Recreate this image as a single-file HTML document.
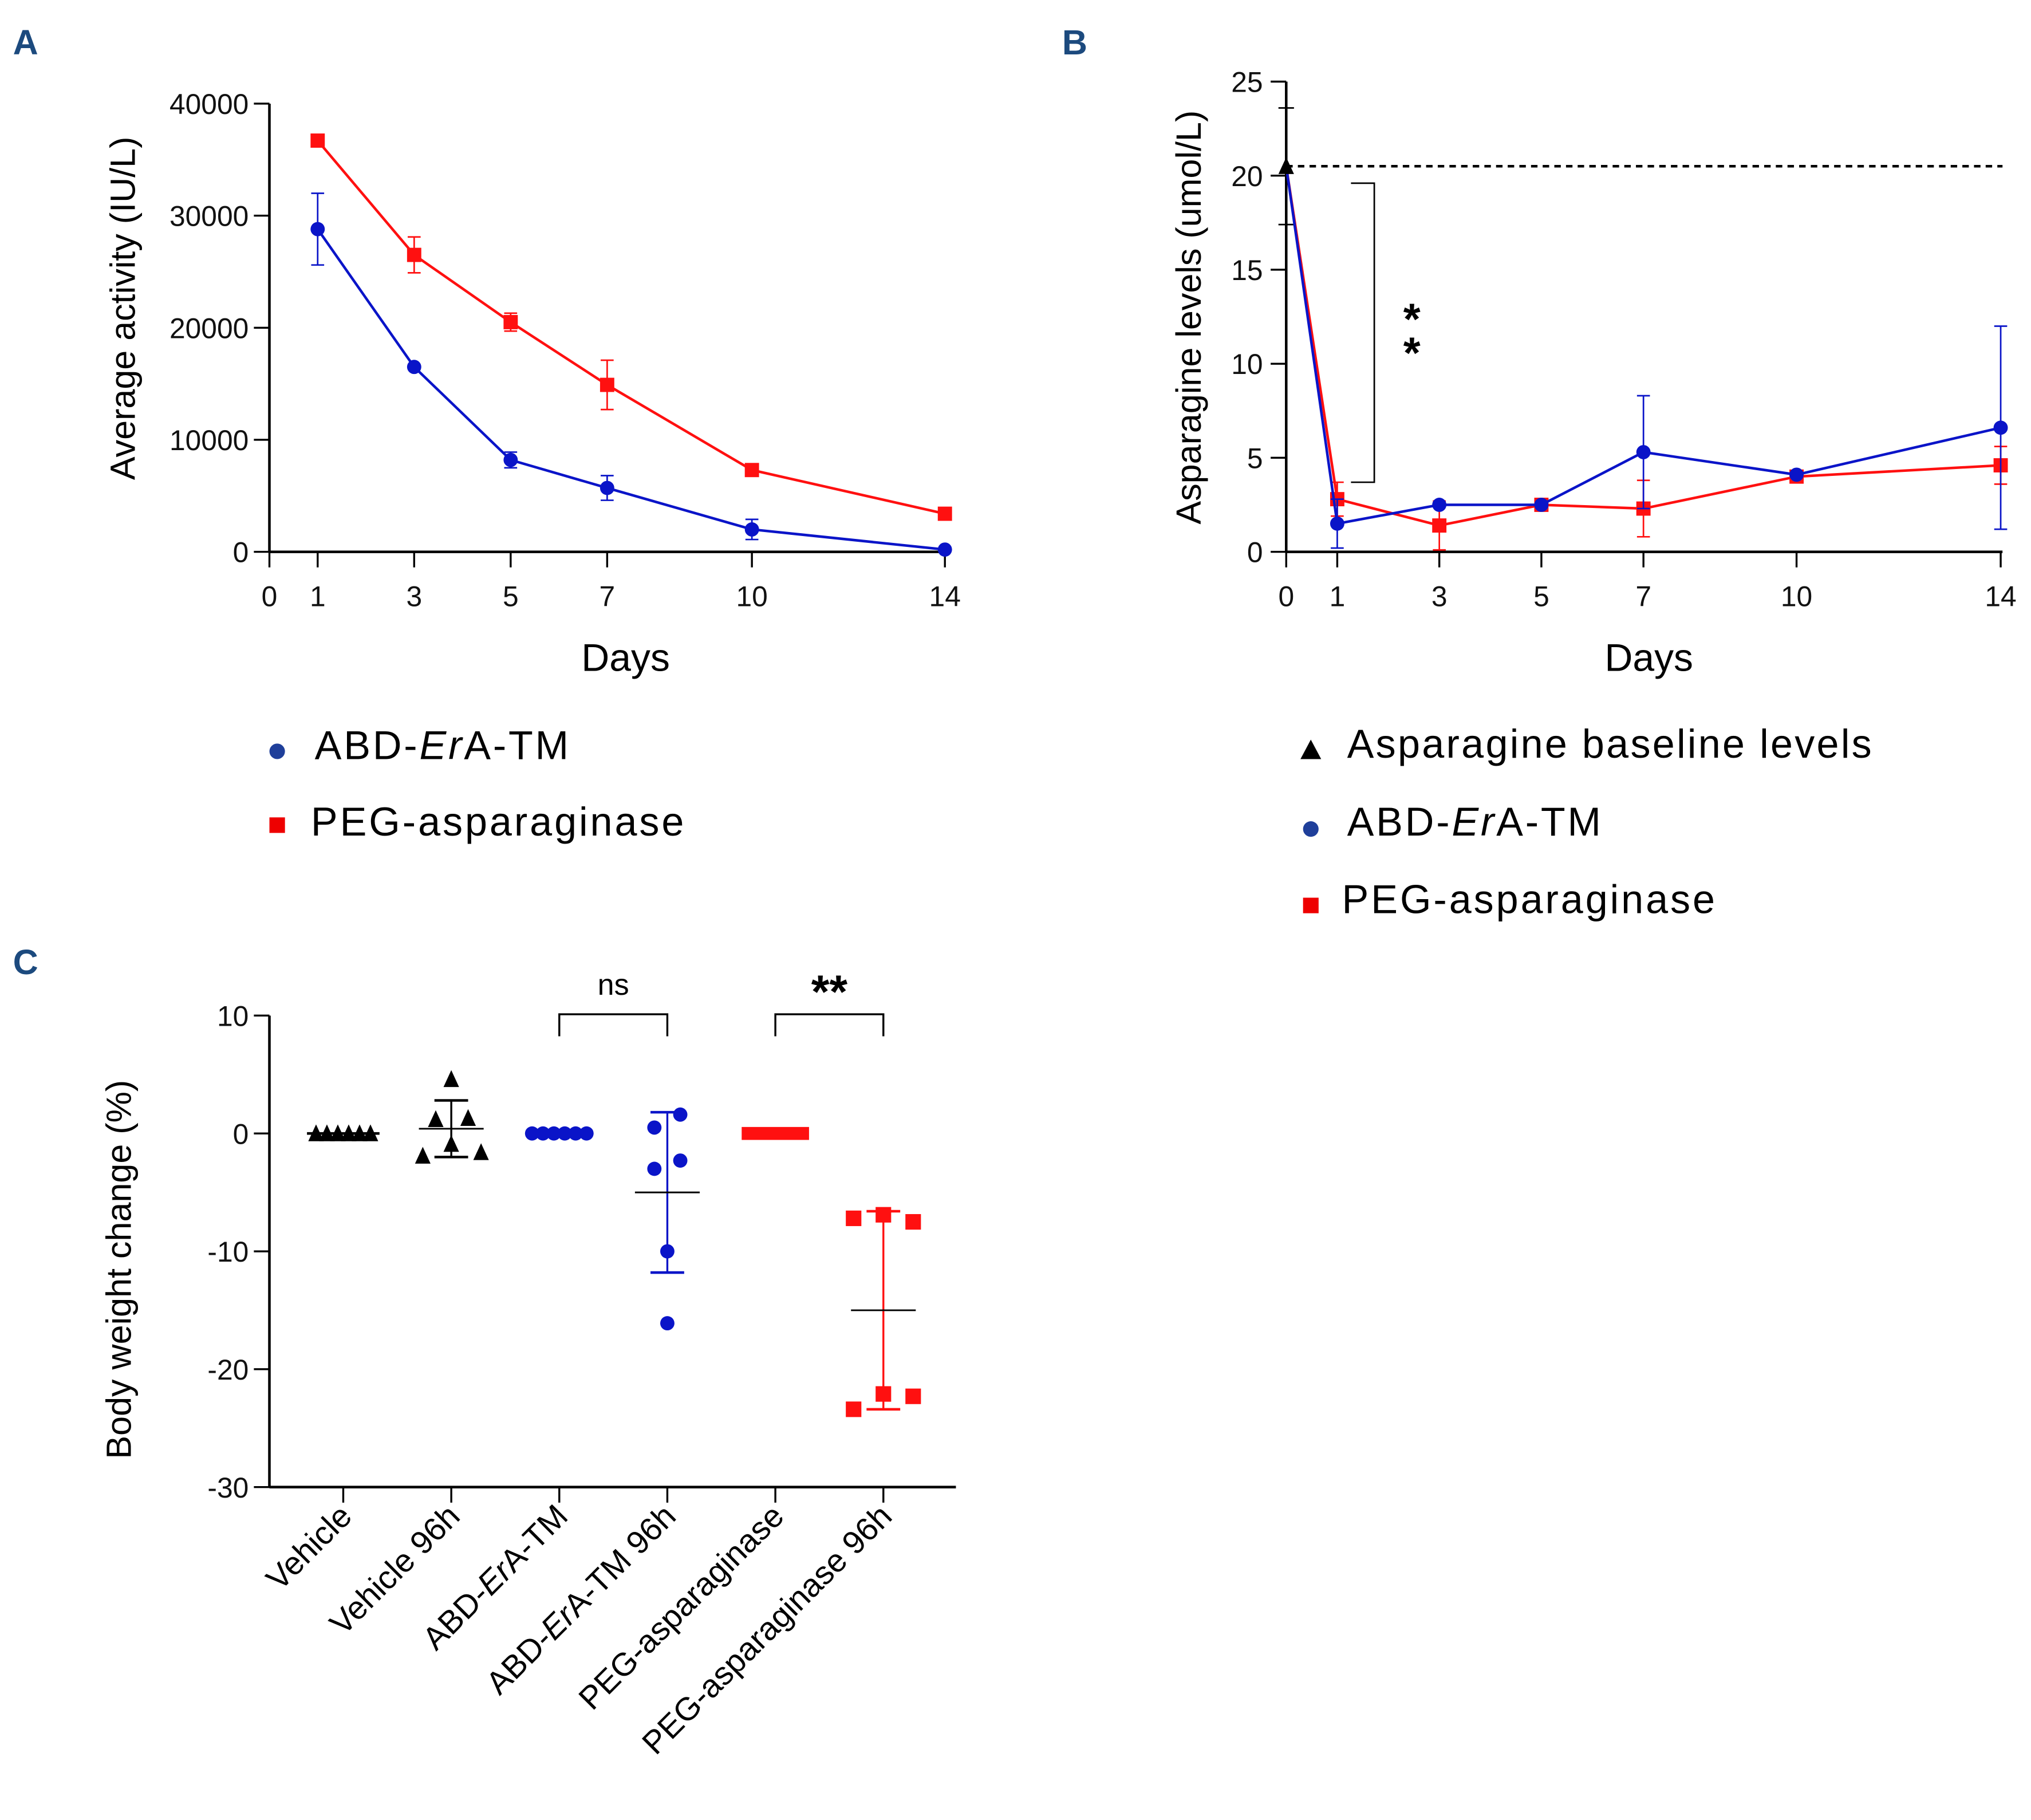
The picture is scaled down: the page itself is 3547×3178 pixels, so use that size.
<!DOCTYPE html>
<html><head><meta charset="utf-8"><style>
html,body{margin:0;padding:0;background:#fff;}
svg{display:block;font-family:"Liberation Sans",Arial,sans-serif;}
.tick{font-size:22px;fill:#111;}
</style></head><body>
<svg id="fig" width="3547" height="3178" viewBox="0 0 1568 1405" preserveAspectRatio="none" xmlns="http://www.w3.org/2000/svg">
<rect width="1568" height="1405" fill="#fff"/>
<text x="10" y="42" font-size="27" font-weight="bold" fill="#1c4a7e">A</text>
<text x="820" y="42" font-size="27" font-weight="bold" fill="#1c4a7e">B</text>
<text x="10" y="752" font-size="27" font-weight="bold" fill="#1c4a7e">C</text>
<g id="pa"></g>
<g id="pb"></g>
<g id="pc"></g>
<g>
<circle cx="214" cy="580" r="6" fill="#1f3f9a"/>
<text x="243" y="586" font-size="31" textLength="196" lengthAdjust="spacing">ABD-<tspan font-style="italic">Er</tspan>A-TM</text>
<rect x="208" y="631" width="12" height="12" fill="#e00"/>
<text x="240" y="645" font-size="31" textLength="288" lengthAdjust="spacing">PEG-asparaginase</text>
</g>
<g>
<path d="M1004,586 L1020,586 L1012,571 Z" fill="#000"/>
<text x="1040" y="585" font-size="31" textLength="405" lengthAdjust="spacing">Asparagine baseline levels</text>
<circle cx="1012" cy="640" r="6" fill="#1f3f9a"/>
<text x="1040" y="645" font-size="31" textLength="196" lengthAdjust="spacing">ABD-<tspan font-style="italic">Er</tspan>A-TM</text>
<rect x="1006" y="693" width="12" height="12" fill="#e00"/>
<text x="1036" y="705" font-size="31" textLength="288" lengthAdjust="spacing">PEG-asparaginase</text>
</g>
</svg>
<script>
const NS="http://www.w3.org/2000/svg";
// Panel A data
const aDays=[1,3,5,7,10,14];
const aBlue=[28800,16500,8200,5700,2000,200];
const aBlueErr=[3200,0,700,1100,900,0];
const aRed=[36700,26500,20500,14900,7300,3400];
const aRedErr=[0,1600,800,2200,0,0];
const aYTicks=[0,10000,20000,30000,40000];
const aXTicks=[0,1,3,5,7,10,14];
// Panel B data
const bDays=[1,3,5,7,10,14];
const bBaseline=20.5;
const bBaselineErr=3.1;
const bBlue=[1.5,2.5,2.5,5.3,4.1,6.6];
const bBlueErr=[1.3,0,0,3.0,0,5.4];
const bRed=[2.8,1.4,2.5,2.3,4.0,4.6];
const bRedErr=[0.9,1.3,0,1.5,0,1.0];
const bYTicks=[0,5,10,15,20,25];
const bXTicks=[0,1,3,5,7,10,14];
// Panel C data
const cCats=["Vehicle","Vehicle 96h","ABD-ErA-TM","ABD-ErA-TM 96h","PEG-asparaginase","PEG-asparaginase 96h"];
const cVeh96=[4.6,1.2,1.3,-0.9,-1.9,-1.6];
const cAbd96=[1.6,0.5,-2.3,-3.0,-10.0,-16.1];
const cPeg96=[-7.2,-6.9,-7.5,-22.1,-22.3,-23.4];
const cMean=[0,0.4,0,-5.0,0,-15.0];
const cSD=[0,2.4,0,6.8,0,8.4];
const cYTicks=[10,0,-10,-20,-30];

function el(p,t,a){const e=document.createElementNS(NS,t);for(const k in a)e.setAttribute(k,a[k]);p.appendChild(e);return e;}
const BLUE="#0a14c8",RED="#ff1010";

// ---- Panel A
const pa=document.getElementById('pa');
const ax=d=>208+d*37.25, ay=v=>426-v*(346/40000);
el(pa,'line',{x1:208,y1:80,x2:208,y2:426,stroke:'#000','stroke-width':2});
el(pa,'line',{x1:208,y1:426,x2:731,y2:426,stroke:'#000','stroke-width':2});
aYTicks.forEach(v=>{el(pa,'line',{x1:196,y1:ay(v),x2:208,y2:ay(v),stroke:'#000','stroke-width':1.5});
 const t=el(pa,'text',{x:192,y:ay(v)+8,'text-anchor':'end',class:'tick'});t.textContent=v;
 
 });
aXTicks.forEach(d=>{el(pa,'line',{x1:ax(d),y1:426,x2:ax(d),y2:438,stroke:'#000','stroke-width':1.5});
 const t=el(pa,'text',{x:ax(d),y:468,'text-anchor':'middle',class:'tick'});t.textContent=d;
 
 });
let tt=el(pa,'text',{x:483,y:518,'text-anchor':'middle','font-size':30});tt.textContent='Days';


tt=el(pa,'text',{transform:'translate(104,238) rotate(-90)','text-anchor':'middle','font-size':27});tt.textContent='Average activity (IU/L)';


function series(g,xs,ys,errs,fx,fy,col,shape,name,skipFirst){
 el(g,'polyline',{points:xs.map((d,i)=>fx(d)+','+fy(ys[i])).join(' '),fill:'none',stroke:col,'stroke-width':2});
 xs.forEach((d,i)=>{if(skipFirst&&i===0)return;const x=fx(d),y=fy(ys[i]);
  if(errs[i]>0){const y1=fy(ys[i]+errs[i]),y2=fy(ys[i]-errs[i]);
   el(g,'line',{x1:x,y1:y1,x2:x,y2:y2,stroke:col,'stroke-width':1.2});
   el(g,'line',{x1:x-5,y1:y1,x2:x+5,y2:y1,stroke:col,'stroke-width':1.2});
   el(g,'line',{x1:x-5,y1:y2,x2:x+5,y2:y2,stroke:col,'stroke-width':1.2});}
  let m;
  if(shape==='c') m=el(g,'circle',{cx:x,cy:y,r:5.5,fill:col});
  else m=el(g,'rect',{x:x-5.5,y:y-5.5,width:11,height:11,fill:col});
  
  });
}
series(pa,aDays,aRed,aRedErr,ax,ay,RED,'s','a-peg-point');
series(pa,aDays,aBlue,aBlueErr,ax,ay,BLUE,'c','a-abd-point');

// ---- Panel B
const pb=document.getElementById('pb');
const bx=d=>993+d*39.4, by=v=>426-v*(363/25);
el(pb,'line',{x1:993,y1:63,x2:993,y2:426,stroke:'#000','stroke-width':2});
el(pb,'line',{x1:993,y1:426,x2:1546,y2:426,stroke:'#000','stroke-width':2});
bYTicks.forEach(v=>{el(pb,'line',{x1:981,y1:by(v),x2:993,y2:by(v),stroke:'#000','stroke-width':1.5});
 const t=el(pb,'text',{x:975,y:by(v)+8,'text-anchor':'end',class:'tick'});t.textContent=v;
 
 });
bXTicks.forEach(d=>{el(pb,'line',{x1:bx(d),y1:426,x2:bx(d),y2:438,stroke:'#000','stroke-width':1.5});
 const t=el(pb,'text',{x:bx(d),y:468,'text-anchor':'middle',class:'tick'});t.textContent=d;
 
 });
tt=el(pb,'text',{x:1273,y:518,'text-anchor':'middle','font-size':30});tt.textContent='Days';


tt=el(pb,'text',{transform:'translate(927,245) rotate(-90)','text-anchor':'middle','font-size':27});tt.textContent='Asparagine levels (umol/L)';


el(pb,'line',{x1:993,y1:by(bBaseline),x2:1546,y2:by(bBaseline),stroke:'#000','stroke-width':2,'stroke-dasharray':'5,4'});
[bBaseline+bBaselineErr,bBaseline-bBaselineErr].forEach(v=>el(pb,'line',{x1:987,y1:by(v),x2:999,y2:by(v),stroke:'#000','stroke-width':1.2}));
el(pb,'polyline',{points:'1043,'+by(19.6)+' 1061,'+by(19.6)+' 1061,'+by(3.7)+' 1043,'+by(3.7),fill:'none',stroke:'#000','stroke-width':1.2});
tt=el(pb,'text',{x:1090,y:258,'text-anchor':'middle','font-size':34,'font-weight':'bold'});tt.textContent='*';


tt=el(pb,'text',{x:1090,y:284,'text-anchor':'middle','font-size':34,'font-weight':'bold'});tt.textContent='*';


const bDaysFull=[0].concat(bDays);
series(pb,bDaysFull,[bBaseline].concat(bRed),[0].concat(bRedErr),bx,by,RED,'s','b-peg-point',true);
series(pb,bDaysFull,[bBaseline].concat(bBlue),[0].concat(bBlueErr),bx,by,BLUE,'c','b-abd-point',true);
let tri=el(pb,'path',{d:`M${bx(0)-6},${by(bBaseline)+6} L${bx(0)+6},${by(bBaseline)+6} L${bx(0)},${by(bBaseline)-7} Z`,fill:'#000'});



// ---- Panel C
const pc=document.getElementById('pc');
const cx=i=>265+i*83.4, cy=v=>875-v*9.1;
el(pc,'line',{x1:208,y1:784,x2:208,y2:1148,stroke:'#000','stroke-width':2});
el(pc,'line',{x1:208,y1:1148,x2:738,y2:1148,stroke:'#000','stroke-width':2});
cYTicks.forEach(v=>{el(pc,'line',{x1:196,y1:cy(v),x2:208,y2:cy(v),stroke:'#000','stroke-width':1.5});
 const t=el(pc,'text',{x:192,y:cy(v)+8,'text-anchor':'end',class:'tick'});t.textContent=v;
 
 });
cCats.forEach((c,i)=>{el(pc,'line',{x1:cx(i),y1:1148,x2:cx(i),y2:1160,stroke:'#000','stroke-width':1.5});
 const t=el(pc,'text',{transform:`translate(${cx(i)+8},${1172}) rotate(-45)`,'text-anchor':'end','font-size':25});
 if(c.indexOf('ErA')>=0){const parts=c.split('Er');t.appendChild(document.createTextNode(parts[0]));const s=el(t,'tspan',{'font-style':'italic'});s.textContent='Er';t.appendChild(document.createTextNode(parts[1]));}
 else t.textContent=c;
 
 });
tt=el(pc,'text',{transform:'translate(101,980) rotate(-90)','text-anchor':'middle','font-size':27});tt.textContent='Body weight change (%)';


function mark(shape,x,y,col,name){let m;
 if(shape==='t') m=el(pc,'path',{d:`M${x-6},${y+6} L${x+6},${y+6} L${x},${y-7} Z`,fill:col});
 else if(shape==='c') m=el(pc,'circle',{cx:x,cy:y,r:5.5,fill:col});
 else m=el(pc,'rect',{x:x-6,y:y-6,width:12,height:12,fill:col});
 
 }
function sdbar(i,col){
 const x=cx(i),a=cy(cMean[i]+cSD[i]),b=cy(cMean[i]-cSD[i]);
 el(pc,'line',{x1:x,y1:a,x2:x,y2:b,stroke:col,'stroke-width':1.5});
 el(pc,'line',{x1:x-13,y1:a,x2:x+13,y2:a,stroke:col,'stroke-width':2});
 el(pc,'line',{x1:x-13,y1:b,x2:x+13,y2:b,stroke:col,'stroke-width':2});
 el(pc,'line',{x1:x-25,y1:cy(cMean[i]),x2:x+25,y2:cy(cMean[i]),stroke:'#000','stroke-width':1.3});}
for(let k=0;k<6;k++) mark('t',cx(0)-21+k*8.4,cy(0),'#000','c-vehicle-point');
el(pc,'line',{x1:cx(0)-28,y1:cy(0),x2:cx(0)+28,y2:cy(0),stroke:'#000','stroke-width':2});
const vOff=[0,-12,13,0,-22,23];
cVeh96.forEach((v,k)=>mark('t',cx(1)+vOff[k],cy(v),'#000','c-vehicle96-point'));
sdbar(1,'#000');
for(let k=0;k<6;k++) mark('c',cx(2)-21+k*8.4,cy(0),BLUE,'c-abd-point');
const aOff=[10,-10,10,-10,0,0];
sdbar(3,BLUE);
cAbd96.forEach((v,k)=>mark('c',cx(3)+aOff[k],cy(v),BLUE,'c-abd96-point'));
let pr=el(pc,'rect',{x:cx(4)-26,y:cy(0)-5,width:52,height:10,fill:RED});


sdbar(5,RED);
const pOff=[-23,0,23,0,23,-23];
cPeg96.forEach((v,k)=>mark('s',cx(5)+pOff[k],cy(v),RED,'c-peg96-point'));
// brackets
[[2,3,'ns',false],[4,5,'**',true]].forEach(([a,b,lab,bold])=>{
 el(pc,'polyline',{points:`${cx(a)},800 ${cx(a)},783 ${cx(b)},783 ${cx(b)},800`,fill:'none',stroke:'#000','stroke-width':1.5});
 const t=el(pc,'text',{x:(cx(a)+cx(b))/2,y:bold?778:768,'text-anchor':'middle','font-size':bold?36:23,'font-weight':bold?'bold':'normal'});t.textContent=lab;
 
 });
</script>
</body></html>
